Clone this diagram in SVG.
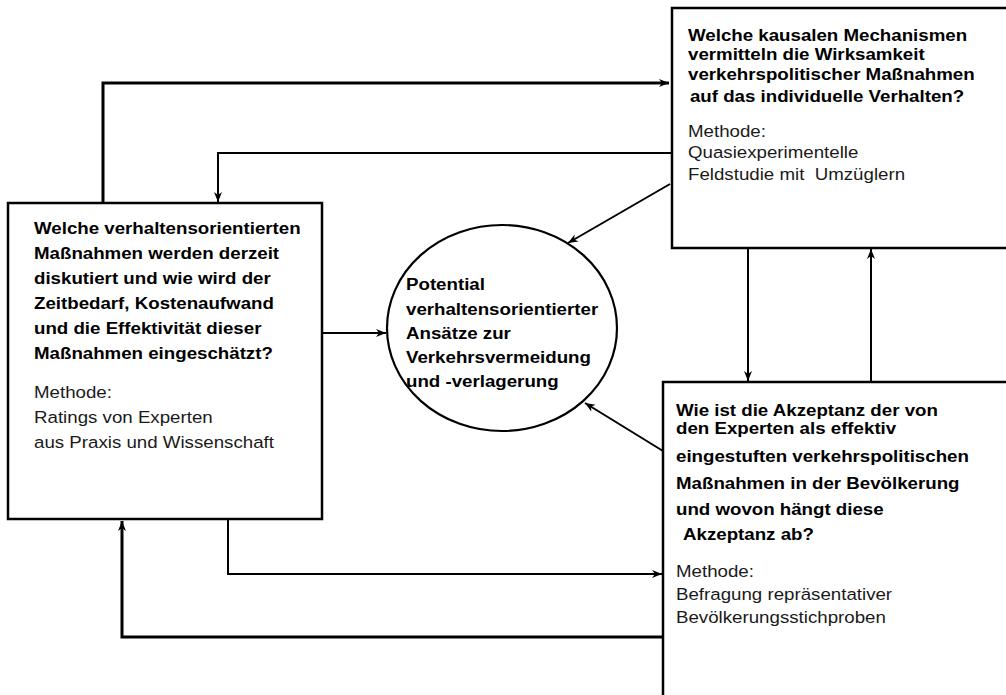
<svg xmlns="http://www.w3.org/2000/svg" width="1006" height="695" viewBox="0 0 1006 695">
  <style>
    .box { fill: #fff; stroke: #000; stroke-width: 2.5; }
    .oval { fill: #fff; stroke: #000; stroke-width: 2.2; }
    .link { fill: none; stroke: #000; stroke-width: 2; }
    .link-heavy { fill: none; stroke: #000; stroke-width: 3; }
    .q { font-family: "Liberation Sans", Arial, sans-serif; font-weight: bold; font-size: 17px; fill: #000; }
    .m { font-family: "Liberation Sans", Arial, sans-serif; font-size: 17px; fill: #1a1a1a; }
  </style>
  <defs>
    <marker id="arrow" markerUnits="userSpaceOnUse" markerWidth="11" markerHeight="10" refX="10" refY="5" orient="auto">
      <path d="M0,1 L10,5 L0,9 L3,5 z" fill="#000"/>
    </marker>
  </defs>

  <rect width="1006" height="695" fill="#fff"/>

  <!-- Connectors -->
  <g id="connectors">
    <!-- left box up and across to the mechanisms box -->
    <polyline class="link-heavy" points="103,203 103,83 669,83" marker-end="url(#arrow)"/>
    <!-- mechanisms box back to the left box -->
    <polyline class="link" points="672,153 218,153 218,202" marker-end="url(#arrow)"/>
    <!-- mechanisms box into the potential oval -->
    <line class="link" x1="670" y1="184" x2="568" y2="243" marker-end="url(#arrow)"/>
    <!-- left box into the potential oval -->
    <line class="link" x1="322" y1="333" x2="386" y2="333" marker-end="url(#arrow)"/>
    <!-- acceptance box into the potential oval -->
    <line class="link" x1="663" y1="451" x2="585" y2="403" marker-end="url(#arrow)"/>
    <!-- mechanisms box down to acceptance box -->
    <line class="link" x1="748" y1="248" x2="748" y2="381" marker-end="url(#arrow)"/>
    <!-- acceptance box up to mechanisms box -->
    <line class="link" x1="871" y1="382" x2="871" y2="249" marker-end="url(#arrow)"/>
    <!-- left box down and across to acceptance box -->
    <polyline class="link" points="228,519 228,574 662,574" marker-end="url(#arrow)"/>
    <!-- acceptance box back to the left box -->
    <polyline class="link-heavy" points="672,637 122,637 122,521" marker-end="url(#arrow)"/>
  </g>

  <!-- Expert ratings of measures -->
  <g id="node-measures">
    <rect class="box" x="8" y="203" width="314" height="316"/>
    <g transform="translate(34,0) scale(1.1,1)">
      <text class="q" x="0" y="234">Welche  verhaltensorientierten</text>
      <text class="q" x="0" y="259">Maßnahmen werden derzeit</text>
      <text class="q" x="0" y="284">diskutiert und wie wird der</text>
      <text class="q" x="0" y="309">Zeitbedarf, Kostenaufwand</text>
      <text class="q" x="0" y="334">und die Effektivität dieser</text>
      <text class="q" x="0" y="359">Maßnahmen eingeschätzt?</text>
      <text class="m" x="0" y="398">Methode:</text>
      <text class="m" x="0" y="423">Ratings von Experten</text>
      <text class="m" x="0" y="448">aus Praxis und Wissenschaft</text>
    </g>
  </g>

  <!-- Causal mechanisms -->
  <g id="node-mechanisms">
    <rect class="box" x="672" y="8" width="345" height="240"/>
    <g transform="translate(688,0) scale(1.1,1)">
      <text class="q" x="0" y="41">Welche kausalen Mechanismen</text>
      <text class="q" x="0" y="60">vermitteln die Wirksamkeit</text>
      <text class="q" x="0" y="80">verkehrspolitischer Maßnahmen</text>
      <text class="q" x="1.8" y="102">auf das individuelle Verhalten?</text>
      <text class="m" x="0" y="137">Methode:</text>
      <text class="m" x="0" y="158">Quasiexperimentelle</text>
      <text class="m" x="0" y="180" xml:space="preserve">Feldstudie mit  Umzüglern</text>
    </g>
  </g>

  <!-- Public acceptance -->
  <g id="node-acceptance">
    <rect class="box" x="663" y="382" width="355" height="330"/>
    <g transform="translate(676,0) scale(1.1,1)">
      <text class="q" x="0" y="416">Wie ist die Akzeptanz der von</text>
      <text class="q" x="0" y="434">den Experten als effektiv</text>
      <text class="q" x="0" y="462">eingestuften verkehrspolitischen</text>
      <text class="q" x="0" y="489">Maßnahmen in der Bevölkerung</text>
      <text class="q" x="0" y="515">und wovon hängt diese</text>
      <text class="q" x="6.4" y="540">Akzeptanz ab?</text>
      <text class="m" x="0" y="577">Methode:</text>
      <text class="m" x="0" y="600">Befragung repräsentativer</text>
      <text class="m" x="0" y="623">Bevölkerungsstichproben</text>
    </g>
  </g>

  <!-- Central outcome -->
  <g id="node-potential">
    <ellipse class="oval" cx="502" cy="328" rx="115" ry="103"/>
    <g transform="translate(406,0) scale(1.1,1)">
      <text class="q" x="0" y="290">Potential</text>
      <text class="q" x="0" y="315">verhaltensorientierter</text>
      <text class="q" x="0" y="339">Ansätze zur</text>
      <text class="q" x="0" y="363">Verkehrsvermeidung</text>
      <text class="q" x="0" y="387">und -verlagerung</text>
    </g>
  </g>
</svg>
